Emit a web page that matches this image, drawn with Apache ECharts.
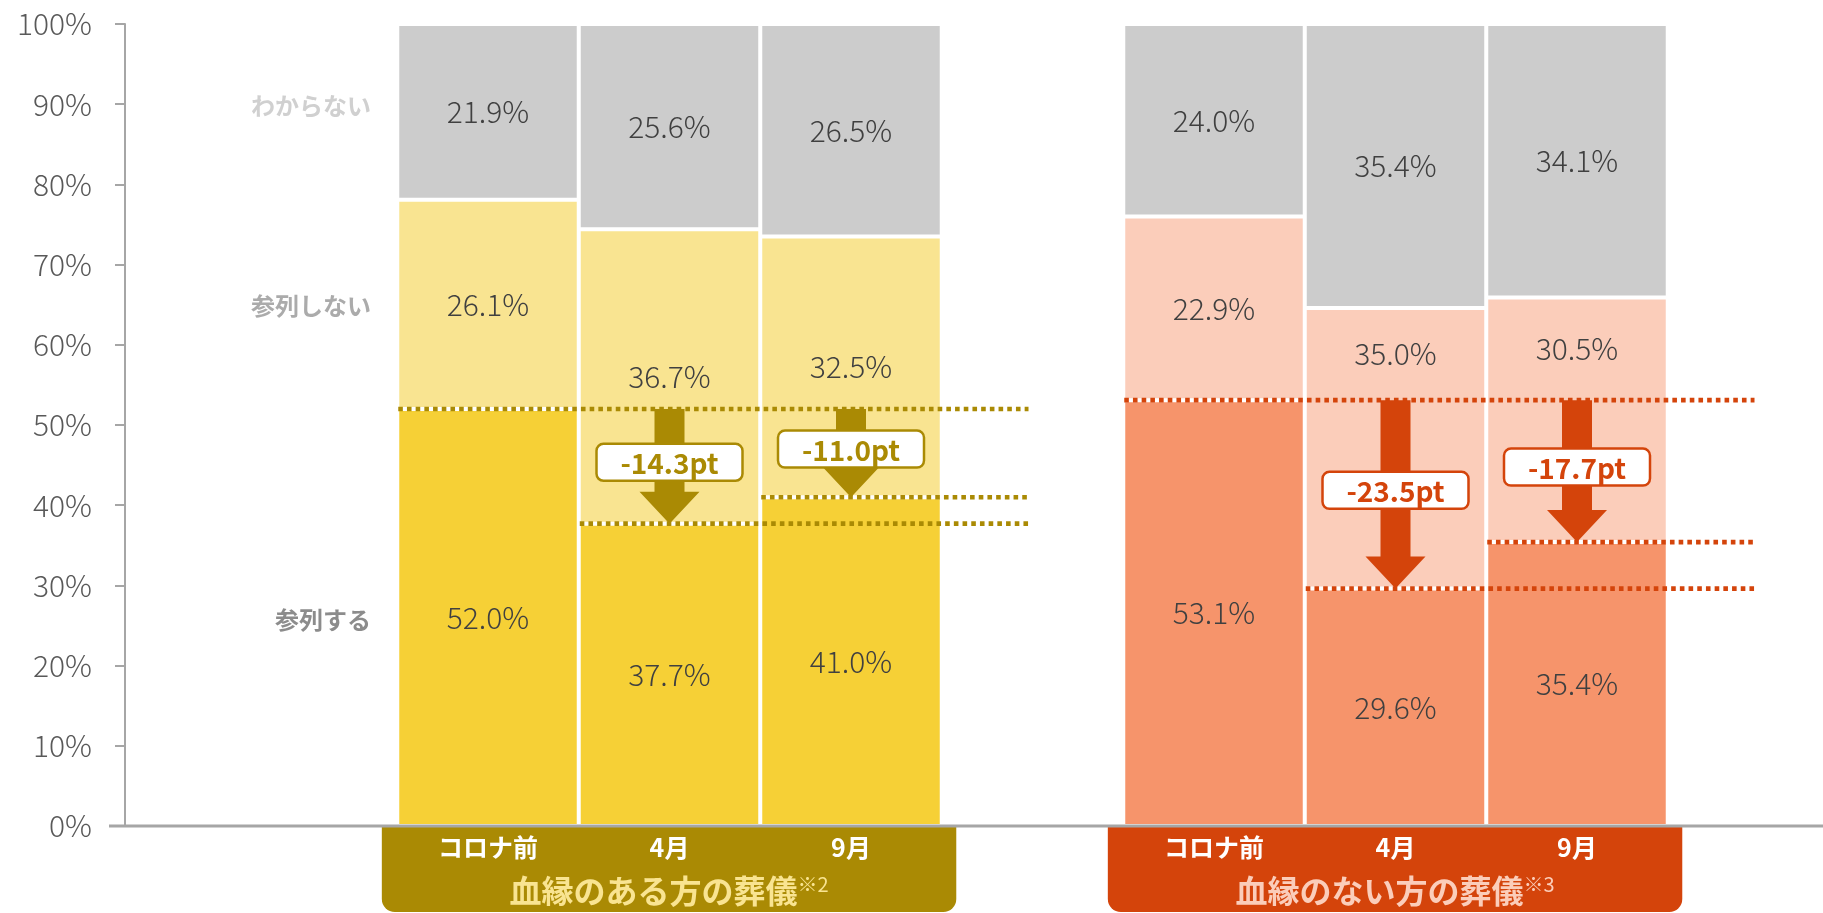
<!DOCTYPE html>
<html>
<head>
<meta charset="utf-8">
<script src="https://cdn.jsdelivr.net/npm/echarts@6/dist/echarts.min.js"></script>
<style>
html, body { margin: 0; padding: 0; background: #fff; }
#main { width: 1823px; height: 913px; }
</style>
</head>
<body>
<div id="main"></div>
<script>
// データ
var months = ['コロナ前', '4月', '9月'];
var groupTitles = ['血縁のある方の葬儀', '血縁のない方の葬儀'];
var groupNotes = ['※2', '※3'];
var seriesNames = ['参列する', '参列しない', 'わからない'];
var attend1 = [52.0, 37.7, 41.0];
var notAttend1 = [26.1, 36.7, 32.5];
var unknown1 = [21.9, 25.6, 26.5];
var attend2 = [53.1, 29.6, 35.4];
var notAttend2 = [22.9, 35.0, 30.5];
var unknown2 = [24.0, 35.4, 34.1];

var FONT = '"Noto Sans CJK JP", "Noto Sans", sans-serif';
var barColors = [
	['#F6D036', '#F9E491', '#CCCCCC'],
	['#F6946B', '#FBCDBA', '#CCCCCC']
];
var darkColors = ['#AA8A04', '#D4440B'];
var titleColors = ['#F9E491', '#FBCDBA'];
var sideLabelColors = ['#8C8C8C', '#ABABAB', '#D0D0D0'];

var GRID = { left: 125, right: 64.5, top: 24, bottom: 87 };
var pxPerUnit = (913 - GRID.top - GRID.bottom) / 100;

// カテゴリ: 空き, 空き, グループ1 x3, 空き, グループ2 x3, 空き
var categories = ['', ''].concat(months, [''], months, ['']);
var groupStart = [2, 6];
var groupValues = [
	[attend1, notAttend1, unknown1],
	[attend2, notAttend2, unknown2]
];

function buildSeriesData(s) {
	var d = [];
	for(var i = 0; i < categories.length; i++) d.push('-');
	for(var g = 0; g < 2; g++) {
		var before = groupValues[g][0][0];
		for(var m = 0; m < months.length; m++) {
			var item = {
				value: groupValues[g][s][m],
				itemStyle: { color: barColors[g][s] }
			};
			// 矢印と重なる「参列しない」のラベルは点線より上へ
			if(s === 1 && m > 0) {
				var bottom = groupValues[g][0][m];
				var top = bottom + groupValues[g][1][m];
				var center = (bottom + top) / 2;
				if(center < before + 3) {
					var want = (before + top) / 2;
					item.label = { offset: [0, -(want - center) * pxPerUnit] };
				}
			}
			d[groupStart[g] + m] = item;
		}
	}
	return d;
}

// 左側のラベル位置（最初の棒の各区間の中央）
function firstCenter(s) {
	var base = 0;
	for(var k = 0; k < s; k++) base += groupValues[0][k][0];
	return base + groupValues[0][s][0] / 2;
}

var series = [];
for(var s = 0; s < 3; s++) {
	series.push({
		name: seriesNames[s],
		type: 'bar',
		stack: 'total',
		barWidth: '100%',
		z: 2,
		itemStyle: { borderColor: '#fff', borderWidth: 2 },
		label: {
			show: true,
			position: 'inside',
			color: '#404040',
			fontSize: 30,
			fontWeight: 300,
			fontFamily: FONT,
			formatter: function(p) { return p.value.toFixed(1) + '%'; }
		},
		emphasis: { disabled: true },
		markPoint: {
			symbol: 'circle',
			symbolSize: 0,
			silent: true,
			label: {
				show: true,
				position: 'left',
				distance: 117,
				offset: [0, s === 2 ? -6 : 2],
				color: sideLabelColors[s],
				fontSize: 24,
				fontWeight: 'bold',
				fontFamily: FONT,
				formatter: seriesNames[s]
			},
			data: [{ coord: [groupStart[0], firstCenter(s)] }]
		},
		data: buildSeriesData(s)
	});
}

// 減少幅の矢印
var dropData = [];
for(var g = 0; g < 2; g++) {
	var att = groupValues[g][0];
	for(var m = 1; m < months.length; m++) {
		dropData.push([groupStart[g] + m, att[0], att[m], groupStart[g], groupStart[g] + months.length, g]);
	}
}

function renderDrop(params, api) {
	var cat = api.value(0), before = api.value(1), after = api.value(2);
	var first = api.value(3), end = api.value(4), g = api.value(5);
	var color = darkColors[g];
	var band = api.size([1, 0])[0];
	var cx = api.coord([cat, after])[0];
	var yB = api.coord([cat, before])[1];
	var yA = api.coord([cat, after])[1];
	var xEnd = api.coord([end, after])[0] - 4;
	var dot = { stroke: color, lineWidth: 4.6, lineDash: [4.6, 4.1] };
	var children = [];
	if(cat === first + 1) {
		var x0 = api.coord([first, before])[0] - band / 2 + 1;
		children.push({ type: 'line', shape: { x1: x0, y1: yB, x2: xEnd, y2: yB }, style: dot });
	}
	children.push({ type: 'line', shape: { x1: cx - band / 2 + 1, y1: yA, x2: xEnd, y2: yA }, style: dot });
	var sw = 15, hw = 30, hh = 32;
	children.push({
		type: 'polygon',
		shape: { points: [[cx - sw, yB], [cx + sw, yB], [cx + sw, yA - hh], [cx + hw, yA - hh], [cx, yA], [cx - hw, yA - hh], [cx - sw, yA - hh]] },
		style: { fill: color }
	});
	var ly = api.coord([cat, (before + after) / 2])[1] - 4;
	children.push({
		type: 'rect',
		shape: { x: cx - 73, y: ly - 18.5, width: 146, height: 37, r: 7 },
		style: { fill: '#fff', stroke: color, lineWidth: 2.5 }
	});
	children.push({
		type: 'text',
		style: {
			text: (after - before).toFixed(1) + 'pt',
			x: cx, y: ly + 1,
			align: 'center', verticalAlign: 'middle',
			fill: color, fontSize: 28, fontWeight: 'bold', fontFamily: FONT
		}
	});
	return { type: 'group', children: children };
}

series.push({
	type: 'custom',
	z: 5,
	silent: true,
	renderItem: renderDrop,
	encode: { x: 0, y: 1 },
	data: dropData
});

var chart = echarts.init(document.getElementById('main'));
var option = {
	animation: false,
	grid: GRID,
	xAxis: {
		type: 'category',
		data: categories,
		boundaryGap: false,
		z: 10,
		axisLine: { show: false },
		axisTick: { show: false },
		splitLine: { show: false },
		axisLabel: {
			interval: 0,
			margin: 9,
			color: '#fff',
			fontSize: 25,
			fontWeight: 'bold',
			fontFamily: FONT
		}
	},
	yAxis: {
		type: 'value',
		min: 0,
		max: 100,
		interval: 10,
		splitLine: { show: false },
		axisLine: { show: true, lineStyle: { color: '#A6A6A6', width: 2 } },
		axisTick: { show: true, length: 10, lineStyle: { color: '#A6A6A6', width: 2 } },
		axisLabel: {
			margin: 33,
			color: '#595959',
			fontSize: 30,
			fontWeight: 300,
			fontFamily: FONT,
			formatter: '{value}%'
		}
	},
	series: series
};
chart.setOption(option);

// グループ見出しと横軸線
var origin = chart.convertToPixel({ gridIndex: 0 }, [0, 0]);
var bandW = chart.convertToPixel({ gridIndex: 0 }, [1, 0])[0] - origin[0];
var graphics = [];
for(var g = 0; g < 2; g++) {
	var c0 = chart.convertToPixel({ gridIndex: 0 }, [groupStart[g], 0])[0];
	var c2 = chart.convertToPixel({ gridIndex: 0 }, [groupStart[g] + months.length - 1, 0])[0];
	var bx0 = c0 - bandW * 0.585, bx1 = c2 + bandW * 0.58;
	graphics.push({
		type: 'rect',
		z: 1,
		shape: { x: bx0, y: origin[1] + 1, width: bx1 - bx0, height: 912 - origin[1] - 1, r: [0, 0, 13, 13] },
		style: { fill: darkColors[g] }
	});
	graphics.push({
		type: 'text',
		z: 2,
		x: (bx0 + bx1) / 2,
		y: origin[1] + 65,
		style: {
			text: '{t|' + groupTitles[g] + '}{n|' + groupNotes[g] + '}',
			align: 'center',
			verticalAlign: 'middle',
			rich: {
				t: { fontSize: 32, fontFamily: FONT, fontWeight: 'bold', fill: titleColors[g], color: titleColors[g] },
				n: { fontSize: 20, fontFamily: FONT, fill: titleColors[g], color: titleColors[g], verticalAlign: 'top', padding: [0, 0, 14, 0] }
			}
		}
	});
}
graphics.push({
	type: 'line',
	z: 3,
	shape: { x1: origin[0] - 16, y1: origin[1], x2: 1823, y2: origin[1] },
	style: { stroke: '#A6A6A6', lineWidth: 3 }
});
chart.setOption({ graphic: graphics });
</script>
</body>
</html>
